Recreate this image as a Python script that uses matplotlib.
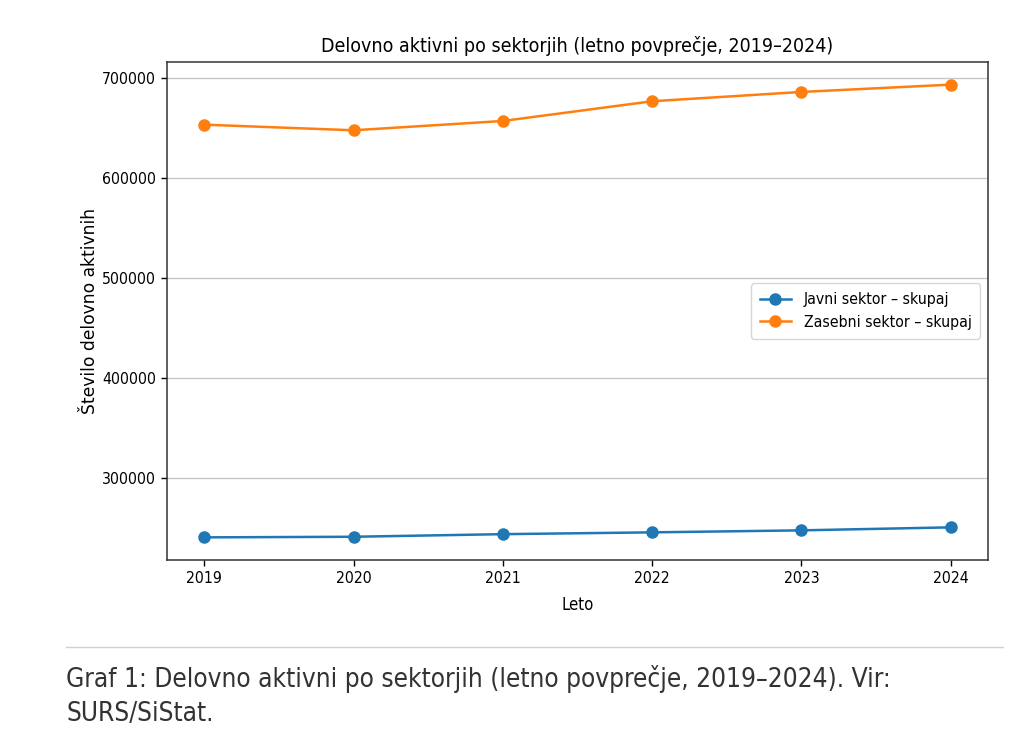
import matplotlib
matplotlib.use('Agg')
from matplotlib import pyplot as plt

leta = [2019, 2020, 2021, 2022, 2023, 2024]
javni = [241000, 241600, 244200, 246000, 248000, 251000]
zasebni = [653300, 647700, 657000, 676700, 686000, 693300]

plt.rcParams['font.family'] = 'DejaVu Sans'
plt.rcParams['font.stretch'] = 'condensed'

fig = plt.figure(figsize=(10.24, 7.41), dpi=100)
ax = fig.add_axes([167 / 1024, 1 - 560 / 741, 821 / 1024, 498 / 741])

ax.plot(leta, javni, marker='o', markersize=8, linewidth=1.8, label='Javni sektor – skupaj')
ax.plot(leta, zasebni, marker='o', markersize=8, linewidth=1.8, label='Zasebni sektor – skupaj')

ax.set_title('Delovno aktivni po sektorjih (letno povprečje, 2019–2024)', fontsize=14, pad=7)
ax.set_xlabel('Leto', fontsize=12, labelpad=7)
# the rotated label is not squeezed in the original
ax.set_ylabel('Število delovno aktivnih', fontsize=12.3, fontstretch='normal', labelpad=2)
ax.tick_params(labelsize=11.3, length=4.5, width=1)
ax.set_xticks(leta)
ax.grid(axis='y', color='#c8c8c8', linewidth=1)
for s in ax.spines.values():
    s.set_linewidth(1.1)
    s.set_color('#333333')
ax.legend(loc='center right', fontsize=11.3, borderpad=0.55)

# page elements below the chart
fig.add_artist(plt.Line2D([66 / 1024, 1003 / 1024], [1 - 647 / 741, 1 - 647 / 741],
                          color='#d0d0d0', linewidth=1))
fig.text(66 / 1024, 1 - 721 / 741,
         'Graf 1: Delovno aktivni po sektorjih (letno povprečje, 2019–2024). Vir:\nSURS/SiStat.',
         fontsize=18.8, color='#333333', ha='left', va='baseline', linespacing=1.4)

fig.savefig('out.png', dpi=100)
